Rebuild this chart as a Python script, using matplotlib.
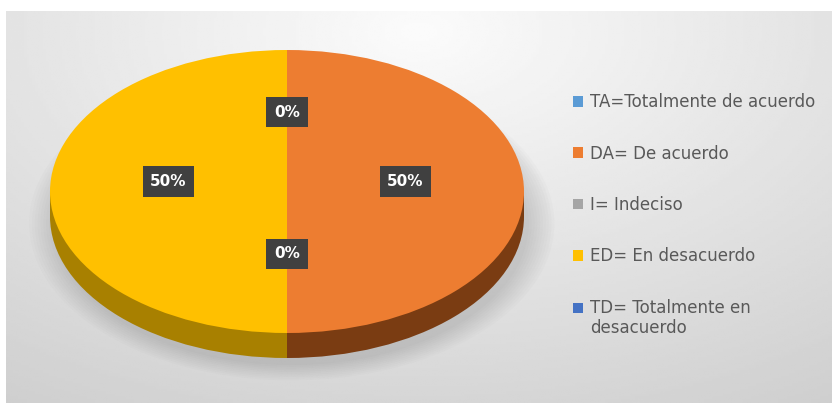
import numpy as np
import matplotlib.pyplot as plt
from matplotlib.patches import Rectangle, Ellipse
from matplotlib.legend_handler import HandlerPatch

categories = ['TA=Totalmente de acuerdo', 'DA= De acuerdo', 'I= Indeciso',
              'ED= En desacuerdo', 'TD= Totalmente en\ndesacuerdo']
values = [0, 50, 0, 50, 0]
colors = ['#5B9BD5', '#ED7D31', '#A5A5A5', '#FFC000', '#4472C4']
sideColors = ['#3E6D99', '#7A3C12', '#707070', '#A88000', '#2E4F8A']

W, H = 832, 405
fig = plt.figure(figsize=(W / 100, H / 100), dpi=100)
fig.patch.set_facecolor('white')

# gray gradient background box
bg = fig.add_axes([6 / W, 1 - 403 / H, (W - 6) / W, (403 - 11) / H])
gx, gy = np.meshgrid(np.linspace(0, 1, 300), np.linspace(0, 1, 150))
dist = np.sqrt(((gx - 0.5) / 0.9) ** 2 + ((gy - 0.05) / 1.1) ** 2)
shade = np.clip(0.985 - 0.17 * dist, 0.8, 1)
bg.imshow(shade, cmap='gray', vmin=0, vmax=1, aspect='auto', extent=(0, 1, 1, 0))
bg.axis('off')

# pie geometry in pixels
cx, cy, a, b, depth = 287, 191.5, 237, 141.5, 25
d = depth / b
ax = fig.add_axes([(cx - a) / W, 1 - (cy + b + depth) / H, 2 * a / W, (2 * b + depth) / H])

# soft shadow
for i in range(10):
    s = 1 + 0.012 * i
    sh = Ellipse((0.02, -d - 0.05), 2 * s, 2 * s, color='#606060', alpha=0.025, lw=0,
                 clip_on=False)
    ax.add_patch(sh)

ax.pie(values, colors=sideColors, startangle=90, counterclock=False,
       center=(0, -d), radius=1, wedgeprops=dict(linewidth=0))
ax.add_patch(Rectangle((-1, -d), 1, d, color=sideColors[3], lw=0))
ax.add_patch(Rectangle((0, -d), 1, d, color=sideColors[1], lw=0))
wedges, texts, autotexts = ax.pie(values, colors=colors, startangle=90, counterclock=False,
                                  center=(0, 0), radius=1, autopct='%1.0f%%', pctdistance=0.5,
                                  wedgeprops=dict(linewidth=0))
for t in autotexts:
    x, y = t.get_position()
    t.set_position((x, y + 0.07 if abs(x) > 0.1 else y + 0.06))
    t.set_color('white')
    t.set_fontsize(11)
    t.set_fontweight('bold')
    t.set_bbox(dict(boxstyle='square,pad=0.5', fc='#404040', ec='none'))

ax.set_aspect('auto')
ax.set_xlim(-1, 1)
ax.set_ylim(-1 - d, 1)
ax.axis('off')


def firstLineHandle(legend, orig_handle, xdescent, ydescent, width, height, fontsize):
    # keep the square next to the first line of a two-line label
    return Rectangle((-xdescent, -ydescent + 8), width, height)


fig.legend(wedges, categories, loc='upper left', bbox_to_anchor=(565 / W, 1 - 85 / H),
           frameon=False, borderpad=0, fontsize=12, labelcolor='#595959',
           handlelength=0.6, handleheight=0.6, handletextpad=0.4, labelspacing=2.0,
           handler_map={wedges[4]: HandlerPatch(patch_func=firstLineHandle)})

fig.savefig('out.png', dpi=100)
